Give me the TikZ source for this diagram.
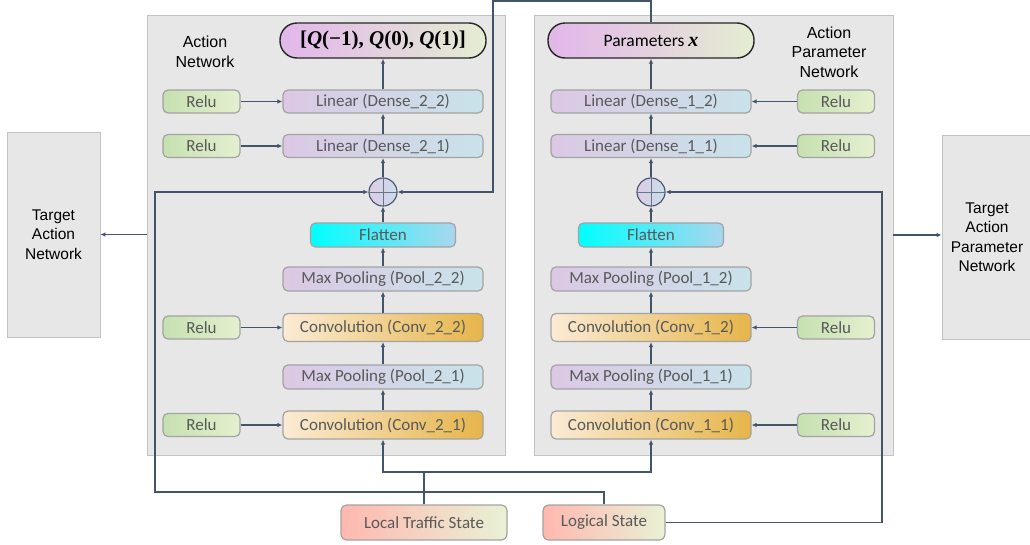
\documentclass[tikz,border=0pt]{standalone}
\usepackage[no-math]{fontspec}
\setmainfont{Carlito}
\newfontfamily\arialf{Liberation Sans}
\newfontfamily\serifq{Liberation Serif}
\usetikzlibrary{arrows.meta,calc}
\definecolor{panelfill}{HTML}{E7E7E7}
\definecolor{panelborder}{HTML}{C3C3C3}
\definecolor{boxborder}{HTML}{A3A3A3}
\definecolor{txtgray}{HTML}{595959}
\definecolor{arrowc}{HTML}{44546A}
\definecolor{reluL}{HTML}{C6E0B0}
\definecolor{reluR}{HTML}{E4F0D0}
\definecolor{linL}{HTML}{DCC8E4}
\definecolor{linR}{HTML}{C8E3EA}
\definecolor{convL}{HTML}{FBEBD5}
\definecolor{convR}{HTML}{E6B54A}
\definecolor{flatL}{HTML}{00FFFF}
\definecolor{flatR}{HTML}{A9D6EE}
\definecolor{outL}{HTML}{E2B6EA}
\definecolor{outR}{HTML}{E4EDD2}
\definecolor{stateL}{HTML}{FFB8B0}
\definecolor{stateR}{HTML}{E9F1D5}
\definecolor{plusL}{HTML}{DCCCE6}
\definecolor{plusR}{HTML}{C9DDEA}
\begin{document}
\begin{tikzpicture}[x=1pt,y=-1pt,
  panel/.style={draw=panelborder, fill=panelfill, line width=0.8pt, inner sep=0pt},
  box/.style={draw=boxborder, line width=1.2pt, rounded corners=5pt, inner sep=0pt, text=txtgray, font=\fontsize{17}{20}\selectfont},
  relubox/.style={box, left color=reluL, right color=reluR, minimum width=77pt, minimum height=23pt},
  linbox/.style={box, left color=linL, right color=linR, minimum width=200pt, minimum height=23pt},
  poolbox/.style={box, left color=linL, right color=linR, minimum width=200pt, minimum height=24pt},
  convbox/.style={box, left color=convL, right color=convR, minimum width=200pt, minimum height=28pt},
  flatbox/.style={box, left color=flatL, right color=flatR, minimum width=145pt, minimum height=24pt},
  outbox/.style={draw=black!85, line width=1.4pt, rounded corners=17pt, left color=outL, right color=outR, minimum width=206pt, minimum height=35pt, inner sep=0pt, text=black},
  statebox/.style={box, rounded corners=6pt, left color=stateL, right color=stateR, minimum height=35pt, font=\fontsize{17}{20}\selectfont},
  plusnode/.style={circle, draw=arrowc, line width=1.1pt, left color=plusL, right color=plusR, minimum size=28pt, inner sep=0pt},
  lbl/.style={font=\arialf\fontsize{16}{19.5}\selectfont, align=center, text=black},
  arr/.style={draw=arrowc, line width=1.2pt, -{Latex[length=5pt,width=4.5pt]}},
  ln/.style={draw=arrowc, line width=1.2pt}]
\useasboundingbox (0,0) rectangle (1030,544);
% panels and targets
\node[panel, minimum width=358pt, minimum height=440pt] (lp) at (326,235) {};
\node[panel, minimum width=359pt, minimum height=440pt] (rp) at (713.5,235) {};
\node[panel, minimum width=93pt, minimum height=205pt, lbl, font=\arialf\fontsize{15.5}{19.5}\selectfont] (tan) at (53.5,234.5) {Target\\Action\\Network};
\node[panel, minimum width=90pt, minimum height=204pt, lbl, font=\arialf\fontsize{15.5}{19.5}\selectfont] (tapn) at (987,237) {Target\\Action\\Parameter\\Network};
\node[lbl] (lpl) at (205,52) {Action\\Network};
\node[lbl] (rpl) at (829,52) {Action\\Parameter\\Network};
% left column
\node[outbox, font=\serifq\bfseries\fontsize{21}{23}\selectfont] (qout) at (383,40.5) {[\textit{Q}(−1), \textit{Q}(0), \textit{Q}(1)]};
\node[linbox] (d22) at (383,101.5) {Linear (Dense\_2\_2)};
\node[linbox] (d21) at (383,146) {Linear (Dense\_2\_1)};
\node[plusnode] (lplus) at (383,192) {};
\node[flatbox] (lfl) at (383,235) {Flatten};
\node[poolbox] (p22) at (383,279) {Max Pooling (Pool\_2\_2)};
\node[convbox] (c22) at (383,327.5) {Convolution (Conv\_2\_2)};
\node[poolbox] (p21) at (383,377) {Max Pooling (Pool\_2\_1)};
\node[convbox] (c21) at (383,425) {Convolution (Conv\_2\_1)};
\node[relubox] (lr1) at (201.5,101.5) {Relu};
\node[relubox] (lr2) at (201.5,146) {Relu};
\node[relubox] (lr3) at (201.5,327.5) {Relu};
\node[relubox] (lr4) at (201.5,425) {Relu};
% right column
\node[outbox, font=\fontsize{17.5}{20}\selectfont] (par) at (651,40.5) {Parameters {\serifq\bfseries\itshape\fontsize{20}{22}\selectfont x}};
\node[linbox] (d12) at (651,101.5) {Linear (Dense\_1\_2)};
\node[linbox] (d11) at (651,146) {Linear (Dense\_1\_1)};
\node[plusnode] (rplus) at (651,192) {};
\node[flatbox] (rfl) at (651,235) {Flatten};
\node[poolbox] (p12) at (651,279) {Max Pooling (Pool\_1\_2)};
\node[convbox] (c12) at (651,327.5) {Convolution (Conv\_1\_2)};
\node[poolbox] (p11) at (651,377) {Max Pooling (Pool\_1\_1)};
\node[convbox] (c11) at (651,425) {Convolution (Conv\_1\_1)};
\node[relubox] (rr1) at (836,101.5) {Relu};
\node[relubox] (rr2) at (836,146) {Relu};
\node[relubox] (rr3) at (836,327.5) {Relu};
\node[relubox] (rr4) at (836,425) {Relu};
% states
\node[statebox, minimum width=166pt] (lts) at (424,522.5) {Local Traffic State};
\node[statebox, minimum width=122pt] (ls) at (604,522.5) {Logical State};
% plus signs
\foreach \p in {lplus,rplus}{
  \draw[arrowc!80, line width=0.9pt] (\p.north) -- (\p.south) (\p.west) -- (\p.east);
}
% vertical chains
\foreach \a/\b in {c21/p21,p21/c22,c22/p22,p22/lfl,lfl/lplus,lplus/d21,d21/d22,d22/qout,
                   c11/p11,p11/c12,c12/p12,p12/rfl,rfl/rplus,rplus/d11,d11/d12,d12/par}{
  \draw[arr] (\a.north) -- (\b.south);
}
% relu arrows
\foreach \r/\t in {lr1/d22,lr2/d21,lr3/c22,lr4/c21}{ \draw[arr] (\r.east) -- (\t.west); }
\foreach \r/\t in {rr1/d12,rr2/d11,rr3/c12,rr4/c11}{ \draw[arr] (\r.west) -- (\t.east); }
% inputs
\draw[arr] (lts.north) |- (c21.south |- 0,472) -- (c21.south);
\draw[arr] (lts.north) |- (c11.south |- 0,472) -- (c11.south);
\coordinate (lturn) at (155,492);
\coordinate (rturn) at (882,192);
\coordinate (ptop) at (493,1);
\draw[arr] (ls.north) |- (lturn) |- (lplus.west);
\draw[arr] (ls.east) -| (rturn) -- (rplus.east);
\draw[arr] (par.north) |- (ptop) |- (lplus.east);
% to targets
\draw[arr] (lp.west |- tan.east) -- (tan.east);
\draw[arr] (rp.east |- 0,235) -- (tapn.west |- 0,235);
\end{tikzpicture}
\end{document}
